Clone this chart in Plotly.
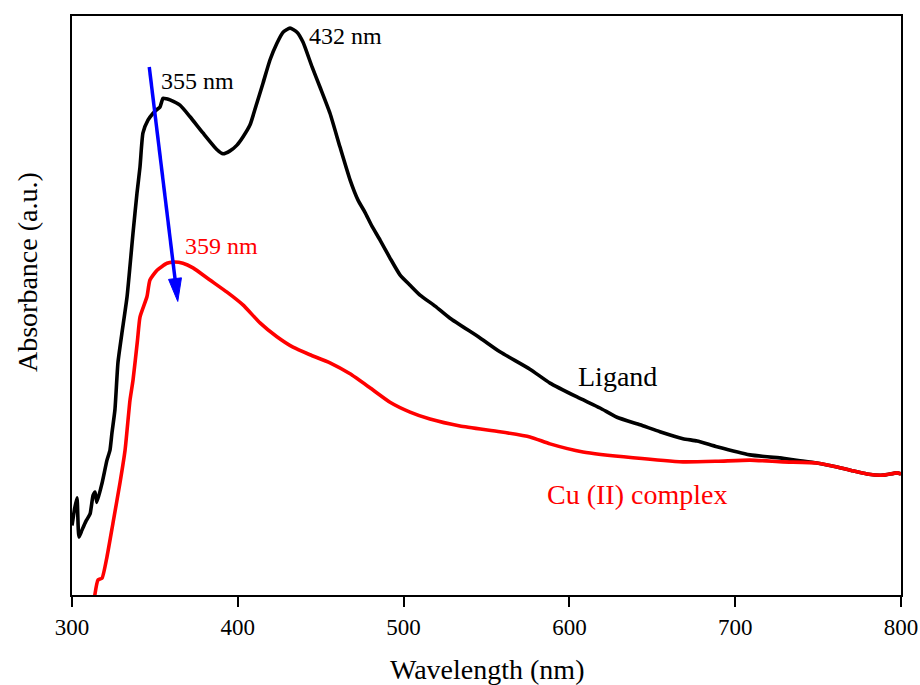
import plotly.graph_objects as go
import math

# ---------------- data ----------------
ligand_nm = [300.0, 301.5, 303.0, 304.2, 306.0, 308.5, 310.9, 312.7, 313.9, 315.0,
             318.1, 321.1, 322.9, 324.1, 325.9, 327.7, 330.0, 333.2, 336.8, 339.2,
             341.0, 342.8, 345.8, 348.9, 351.0, 353.1, 354.9, 357.0, 359.1, 365.1,
             371.2, 379.0, 387.5, 391.1, 395.3, 399.5, 403.1, 407.4, 411.0, 415.2,
             419.4, 423.6, 427.3, 431.5, 435.7, 439.3, 444.8, 449.6, 455.6, 461.6,
             467.7, 472.5, 476.7, 480.9, 485.8, 491.8, 497.8, 503.9, 509.9, 519.0,
             528.0, 546.1, 558.1, 576.2, 588.3, 604.6, 618.5, 628.7, 642.6, 654.6,
             668.5, 677.0, 689.0, 708.9, 728.8, 739.1, 749.3, 761.4, 770.0, 779.5,
             789.1, 797.6, 800.0]
ligand_abs = [0.120, 0.148, 0.168, 0.100, 0.112, 0.128, 0.140, 0.172, 0.178, 0.160,
              0.193, 0.233, 0.250, 0.280, 0.320, 0.401, 0.450, 0.515, 0.625, 0.694,
              0.739, 0.798, 0.820, 0.832, 0.838, 0.843, 0.858, 0.857, 0.855, 0.846,
              0.826, 0.798, 0.769, 0.762, 0.767, 0.777, 0.791, 0.812, 0.845, 0.884,
              0.924, 0.953, 0.972, 0.979, 0.972, 0.955, 0.912, 0.877, 0.832, 0.774,
              0.717, 0.682, 0.661, 0.637, 0.613, 0.582, 0.553, 0.535, 0.518, 0.499,
              0.478, 0.444, 0.420, 0.390, 0.366, 0.342, 0.323, 0.307, 0.294, 0.282,
              0.270, 0.266, 0.256, 0.242, 0.236, 0.232, 0.228, 0.221, 0.215, 0.209,
              0.207, 0.211, 0.209]

complex_nm = [313.5, 315.7, 318.1, 321.1, 324.7, 328.9, 332.0, 335.0, 336.8, 339.5,
              341.0, 345.2, 347.0, 351.3, 357.3, 360.9, 366.9, 373.0, 383.2, 393.5,
              403.1, 413.4, 423.6, 433.3, 443.5, 455.6, 467.7, 479.7, 491.8, 503.9,
              515.9, 534.0, 558.1, 576.2, 588.3, 608.2, 638.4, 668.5, 689.0, 708.9,
              728.8, 749.3, 761.4, 770.0, 779.5, 789.1, 797.6, 800.0]
complex_abs = [-0.005, 0.026, 0.029, 0.066, 0.124, 0.193, 0.250, 0.337, 0.371, 0.440,
               0.480, 0.515, 0.544, 0.561, 0.573, 0.575, 0.573, 0.565, 0.544, 0.523,
               0.501, 0.470, 0.446, 0.428, 0.415, 0.401, 0.382, 0.358, 0.333, 0.316,
               0.304, 0.292, 0.282, 0.273, 0.261, 0.247, 0.237, 0.230, 0.231, 0.233,
               0.230, 0.228, 0.221, 0.215, 0.209, 0.207, 0.211, 0.209]

x_ticks = [300, 400, 500, 600, 700, 800]

# ---------------- layout constants ----------------
W_FIG, H_FIG = 920, 685
M_L, M_R, M_T, M_B = 72, 19, 16, 90
X_RANGE = [300, 800]
Y_RANGE = [0, 1]
FONT = "Liberation Serif, Times New Roman, serif"

PW = W_FIG - M_L - M_R
PH = H_FIG - M_T - M_B


def to_px(x, y):
    px = M_L + (x - X_RANGE[0]) / (X_RANGE[1] - X_RANGE[0]) * PW
    py = M_T + (Y_RANGE[1] - y) / (Y_RANGE[1] - Y_RANGE[0]) * PH
    return px, py


def to_data(px, py):
    x = X_RANGE[0] + (px - M_L) / PW * (X_RANGE[1] - X_RANGE[0])
    y = Y_RANGE[1] - (py - M_T) / PH * (Y_RANGE[1] - Y_RANGE[0])
    return x, y


fig = go.Figure()
fig.add_trace(go.Scatter(x=ligand_nm, y=ligand_abs, mode="lines",
                         line=dict(color="black", width=3.6, shape="spline",
                                   smoothing=0.5),
                         name="Ligand", showlegend=False))
fig.add_trace(go.Scatter(x=complex_nm, y=complex_abs, mode="lines",
                         line=dict(color="#ff0000", width=3.6, shape="spline",
                                   smoothing=0.5),
                         name="Cu (II) complex", showlegend=False))

# ---------------- blue arrow (shaft + narrow head) ----------------
arrow_start = (346.6, 0.912)
arrow_tip = (363.8, 0.507)
sx, sy = to_px(*arrow_start)
tx, ty = to_px(*arrow_tip)
dx, dy = tx - sx, ty - sy
L = math.hypot(dx, dy)
ux, uy = dx / L, dy / L
head_len, head_half = 23, 6.5
bx, by = tx - ux * head_len, ty - uy * head_len
nx, ny = -uy, ux
p1 = to_data(bx + nx * head_half, by + ny * head_half)
p2 = to_data(bx - nx * head_half, by - ny * head_half)
base = to_data(bx + ux * 2, by + uy * 2)

fig.add_shape(type="line", xref="x", yref="y",
              x0=arrow_start[0], y0=arrow_start[1], x1=base[0], y1=base[1],
              line=dict(color="#0000ff", width=3.5))
path = (f"M {arrow_tip[0]},{arrow_tip[1]} L {p1[0]},{p1[1]} "
        f"L {p2[0]},{p2[1]} Z")
fig.add_shape(type="path", xref="x", yref="y", path=path,
              fillcolor="#0000ff", line=dict(color="#0000ff", width=1))

# ---------------- text annotations ----------------
ann = [
    dict(x=375.4, y=0.888, text="355 nm", color="black", size=24),
    dict(x=464.7, y=0.965, text="432 nm", color="black", size=24),
    dict(x=389.9, y=0.603, text="359 nm", color="#ff0000", size=24),
    dict(x=629.3, y=0.378, text="Ligand", color="black", size=28),
    dict(x=640.8, y=0.174, text="Cu (II) complex", color="#ff0000", size=28),
]
for a in ann:
    fig.add_annotation(x=a["x"], y=a["y"], xref="x", yref="y", text=a["text"],
                       showarrow=False, xanchor="center", yanchor="middle",
                       font=dict(family=FONT, size=a["size"], color=a["color"]))

# axis titles as annotations for precise placement
fig.add_annotation(xref="paper", yref="paper", x=0.5, y=(595 - 669) / PH,
                   text="Wavelength (nm)", showarrow=False,
                   xanchor="center", yanchor="middle",
                   font=dict(family=FONT, size=28, color="black"))
fig.add_annotation(xref="paper", yref="paper", x=(27 - M_L) / PW, y=(595 - 272) / PH,
                   text="Absorbance (a.u.)", showarrow=False, textangle=-90,
                   xanchor="center", yanchor="middle",
                   font=dict(family=FONT, size=28, color="black"))

fig.update_layout(
    width=W_FIG, height=H_FIG,
    margin=dict(l=M_L, r=M_R, t=M_T, b=M_B, pad=0, autoexpand=False),
    paper_bgcolor="white", plot_bgcolor="white",
    font=dict(family=FONT, color="black"),
    xaxis=dict(range=X_RANGE, tickvals=x_ticks, ticktext=[str(v) for v in x_ticks],
               automargin=False,
               showgrid=False, zeroline=False, showline=True, linecolor="black",
               linewidth=2, mirror=True, ticks="outside", ticklen=10, tickwidth=2,
               tickcolor="black", tickfont=dict(family=FONT, size=23, color="black")),
    yaxis=dict(range=Y_RANGE, automargin=False, showgrid=False, zeroline=False,
               showline=True, linecolor="black", linewidth=2, mirror=True, ticks="",
               showticklabels=False),
)

fig.write_html("out.html")
